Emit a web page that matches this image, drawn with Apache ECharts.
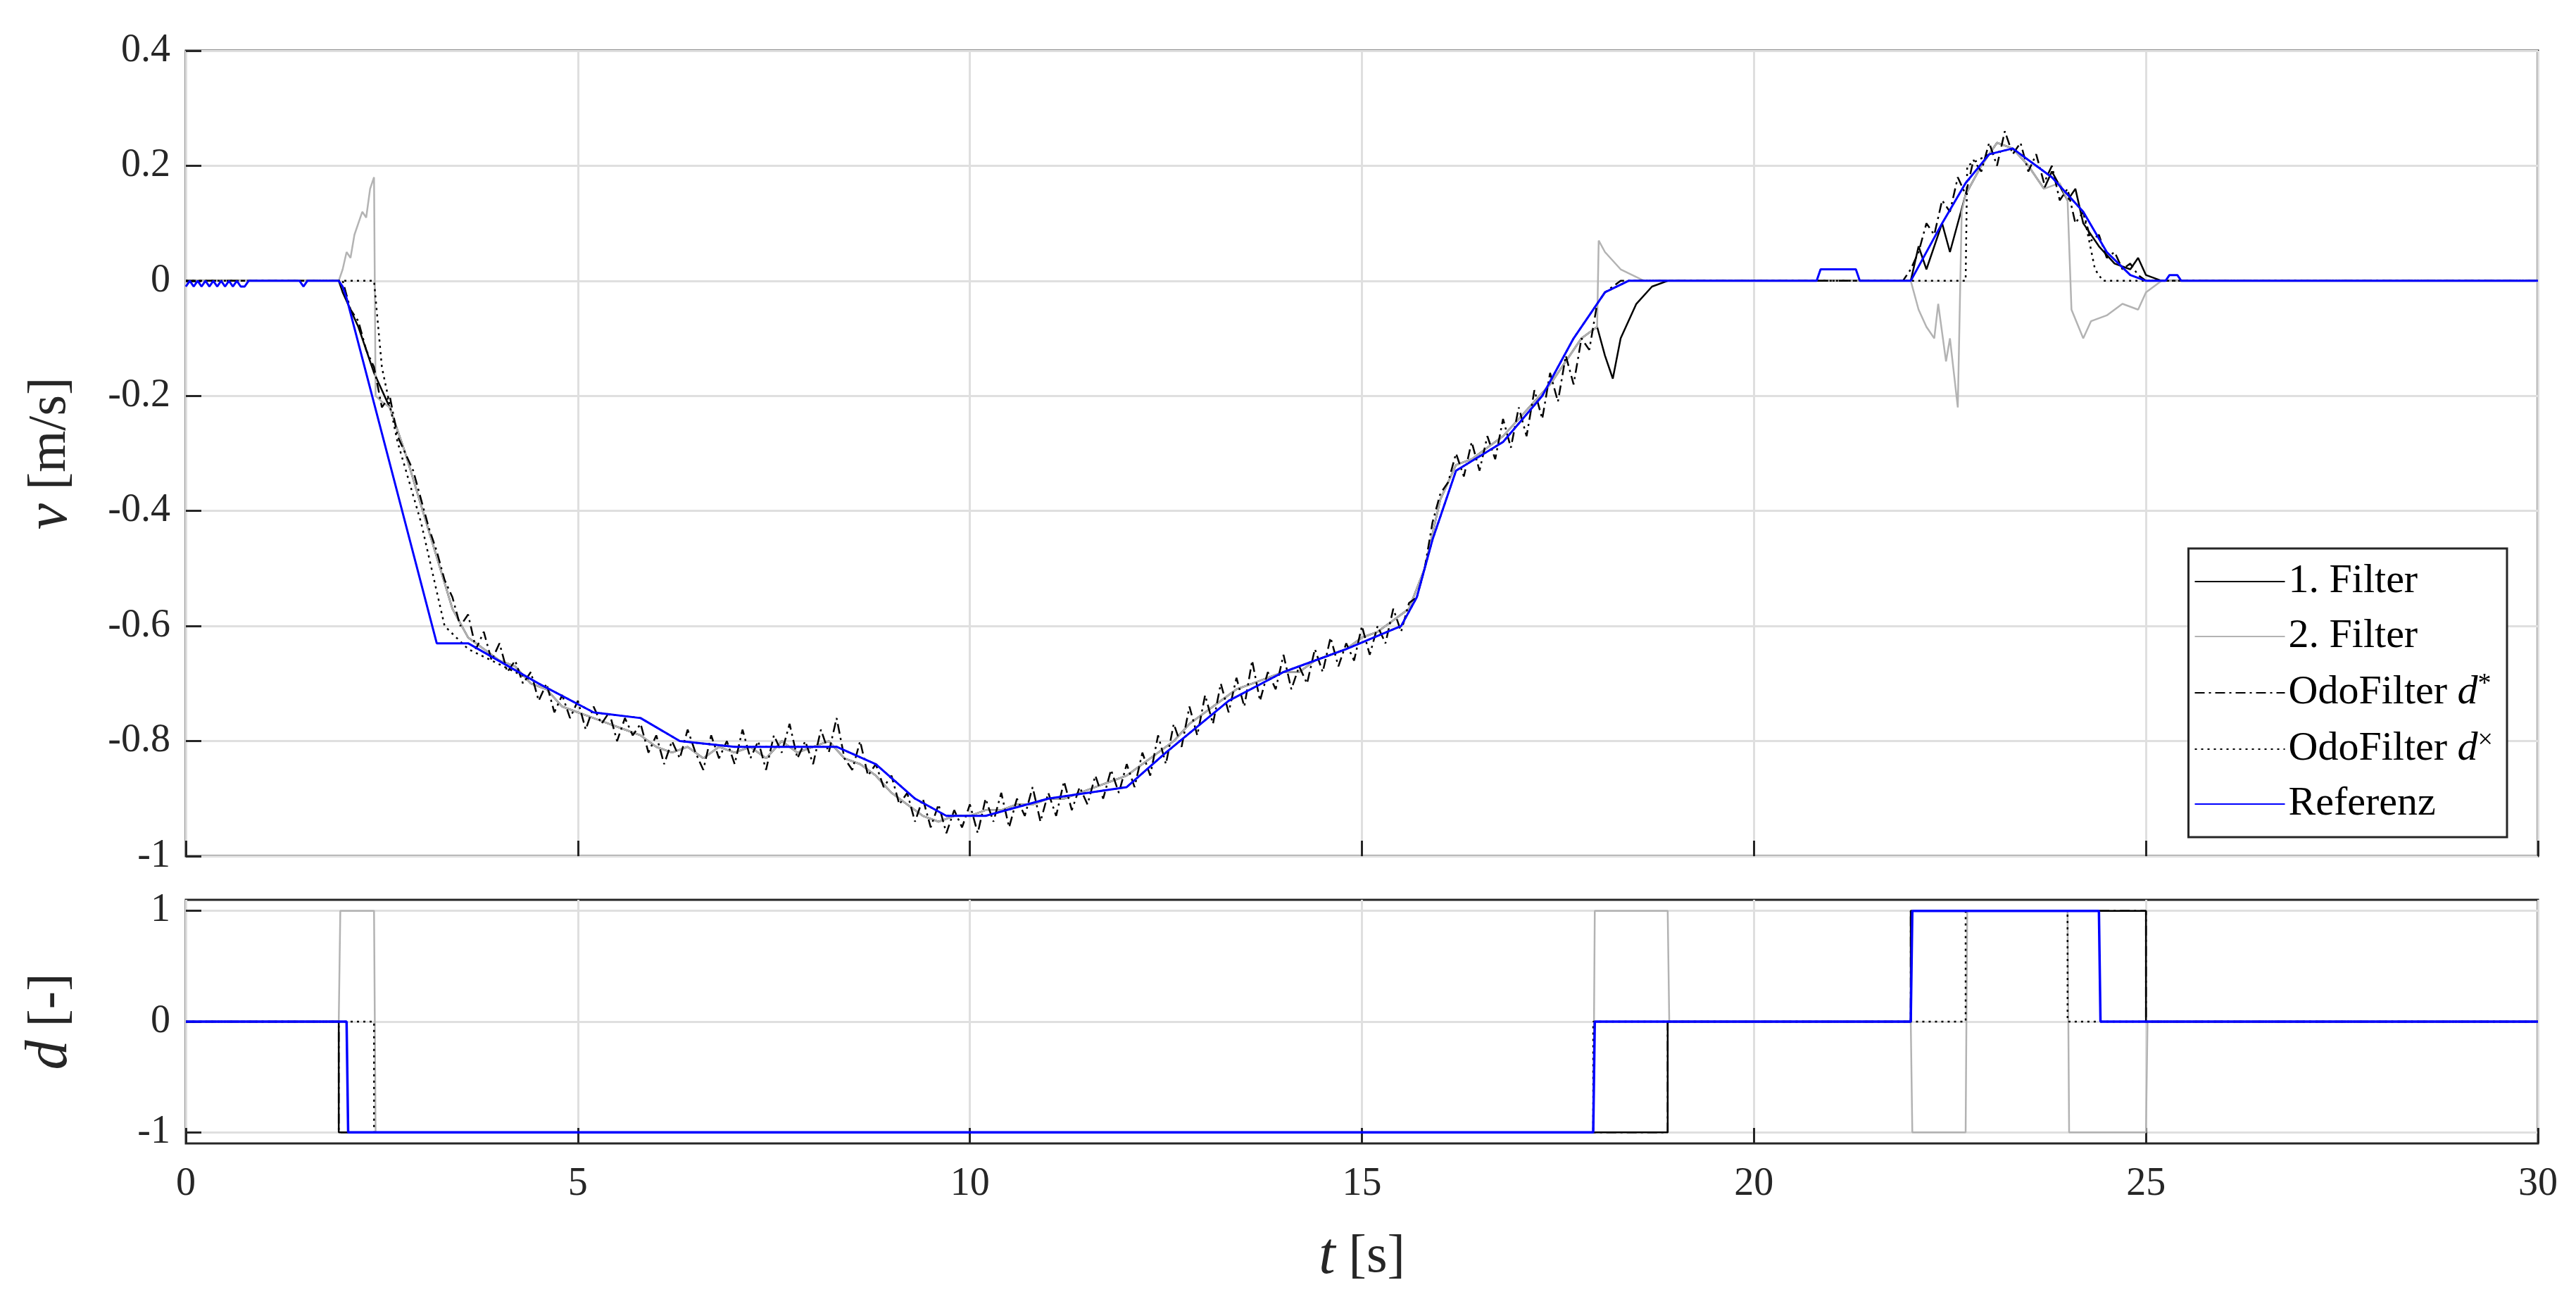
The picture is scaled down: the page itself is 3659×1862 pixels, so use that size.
<!DOCTYPE html>
<html>
<head>
<meta charset="utf-8">
<script src="https://cdn.jsdelivr.net/npm/echarts@6/dist/echarts.min.js"></script>
<style>html,body{margin:0;background:#fff}#c{width:3659px;height:1862px}</style>
</head>
<body>
<div id="c"></div>
<script>
// Geschwindigkeit v [m/s]
const tickV = [-1, -0.8, -0.6, -0.4, -0.2, 0, 0.2, 0.4];
const tickD = [-1, 0, 1];

// OdoFilter d* : 0.1 s Raster ab 2.0 s
const dStarStart = 2.0;
const dStarVals = [
  0, -0.05, -0.07, -0.12, -0.15, -0.22, -0.2, -0.27, -0.3, -0.33,
  -0.38, -0.43, -0.47, -0.52, -0.55, -0.6, -0.58, -0.64, -0.61, -0.66,
  -0.63, -0.68, -0.66, -0.7, -0.68, -0.73, -0.7, -0.75, -0.72, -0.76,
  -0.73, -0.78, -0.74, -0.77, -0.75, -0.8, -0.76, -0.79, -0.77, -0.82,
  -0.79, -0.84, -0.8, -0.83, -0.78, -0.82, -0.85, -0.79, -0.83, -0.8,
  -0.84, -0.78, -0.83, -0.8, -0.85, -0.79, -0.82, -0.77, -0.83, -0.8,
  -0.84, -0.78, -0.82, -0.76, -0.83, -0.85, -0.8, -0.86, -0.84, -0.88,
  -0.86, -0.91, -0.89, -0.94, -0.9, -0.95, -0.91, -0.96, -0.92, -0.95,
  -0.91, -0.96, -0.9, -0.94, -0.89, -0.95, -0.9, -0.93, -0.88, -0.94,
  -0.89, -0.93, -0.87, -0.92, -0.88, -0.91, -0.86, -0.9, -0.85, -0.89,
  -0.84, -0.88, -0.82, -0.86, -0.79, -0.84, -0.77, -0.81, -0.74, -0.79,
  -0.72, -0.77, -0.7, -0.75, -0.69, -0.74, -0.66, -0.73, -0.68, -0.71,
  -0.65, -0.71, -0.67, -0.7, -0.64, -0.68, -0.62, -0.67, -0.63, -0.66,
  -0.6, -0.65, -0.6, -0.63, -0.57, -0.61, -0.56, -0.55, -0.5, -0.42,
  -0.37, -0.35, -0.3, -0.34, -0.28, -0.33, -0.27, -0.31, -0.24, -0.29,
  -0.22, -0.27, -0.19, -0.24, -0.16, -0.21, -0.13, -0.18, -0.1, -0.12,
  -0.04, -0.02, -0.01, 0, 0, 0, 0, 0, 0, 0,
  0, 0, 0, 0, 0, 0, 0, 0, 0, 0,
  0, 0, 0, 0, 0, 0, 0, 0, 0, 0,
  0, 0, 0, 0, 0, 0, 0, 0, 0, 0,
  0.02, 0.05, 0.1, 0.08, 0.14, 0.12, 0.18, 0.15, 0.21, 0.19,
  0.24, 0.2, 0.26, 0.22, 0.24, 0.19, 0.22, 0.17, 0.2, 0.14,
  0.16, 0.1, 0.12, 0.07, 0.08, 0.04, 0.05, 0.02, 0.03, 0.01,
  0
];

// 1. Filter
const filter1Mid = [
  [2.0, -0.02], [2.2, -0.08], [2.4, -0.16], [2.6, -0.22], [2.8, -0.3], [3.0, -0.39], [3.2, -0.48],
  [3.4, -0.57], [3.6, -0.62], [3.8, -0.64], [4.0, -0.66], [4.2, -0.67], [4.4, -0.7], [4.6, -0.71],
  [4.8, -0.74], [5.0, -0.75], [5.2, -0.76], [5.4, -0.77], [5.6, -0.78], [5.8, -0.79], [6.0, -0.81],
  [6.2, -0.82], [6.4, -0.81], [6.6, -0.83], [6.8, -0.81], [7.0, -0.82], [7.2, -0.81], [7.4, -0.83],
  [7.6, -0.8], [7.8, -0.82], [8.0, -0.81], [8.2, -0.8], [8.4, -0.83], [8.6, -0.84], [8.8, -0.86],
  [9.0, -0.89], [9.2, -0.91], [9.4, -0.93], [9.6, -0.94], [9.8, -0.93], [10.0, -0.93], [10.2, -0.92],
  [10.4, -0.92], [10.6, -0.91], [10.8, -0.91], [11.0, -0.9], [11.2, -0.9], [11.4, -0.89], [11.6, -0.88],
  [11.8, -0.87], [12.0, -0.86], [12.2, -0.84], [12.4, -0.82], [12.6, -0.8], [12.8, -0.77], [13.0, -0.75],
  [13.2, -0.73], [13.4, -0.71], [13.6, -0.7], [13.8, -0.69], [14.0, -0.68], [14.2, -0.68], [14.4, -0.66],
  [14.6, -0.65], [14.8, -0.64], [15.0, -0.62], [15.2, -0.61], [15.4, -0.59], [15.6, -0.57], [15.8, -0.5],
  [16.0, -0.38], [16.2, -0.32], [16.4, -0.31], [16.6, -0.29], [16.8, -0.27], [17.0, -0.24], [17.2, -0.21],
  [17.4, -0.18], [17.6, -0.14], [17.8, -0.1], [18.0, -0.08]
];
const filter1Head = [[0, 0], [1.95, 0]];
const filter1Tail = [
  [18.1, -0.13], [18.2, -0.17], [18.3, -0.1], [18.5, -0.04], [18.7, -0.01], [18.9, 0], [22.0, 0],
  [22.1, 0.06], [22.2, 0.02], [22.4, 0.1], [22.5, 0.05], [22.7, 0.15], [22.9, 0.2], [23.1, 0.24],
  [23.3, 0.23], [23.5, 0.2], [23.7, 0.16], [23.8, 0.19], [24.0, 0.14], [24.1, 0.16], [24.2, 0.1],
  [24.4, 0.06], [24.6, 0.03], [24.8, 0.02], [24.9, 0.04], [25.0, 0.01], [25.2, 0], [30, 0]
];

// 2. Filter
const filter2Head = [
  [0, 0], [1.95, 0], [2.0, 0.02], [2.05, 0.05], [2.1, 0.04], [2.15, 0.08], [2.2, 0.1], [2.25, 0.12],
  [2.3, 0.11], [2.35, 0.16], [2.4, 0.18], [2.42, -0.2], [2.5, -0.21]
];
const filter2Tail = [
  [18.02, 0.07], [18.1, 0.05], [18.3, 0.02], [18.6, 0], [22.0, 0], [22.1, -0.05], [22.2, -0.08],
  [22.3, -0.1], [22.35, -0.04], [22.45, -0.14], [22.5, -0.1], [22.6, -0.22], [22.65, 0.12], [22.7, 0.15],
  [22.9, 0.2], [23.1, 0.24], [23.3, 0.23], [23.5, 0.2], [23.7, 0.16], [23.9, 0.17], [24.0, 0.14],
  [24.05, -0.05], [24.2, -0.1], [24.3, -0.07], [24.5, -0.06], [24.7, -0.04], [24.9, -0.05],
  [25.0, -0.02], [25.2, 0], [30, 0]
];

// Referenz
const refPts = [
  [0, -0.01], [0.05, 0], [0.1, -0.01], [0.15, 0], [0.2, -0.01], [0.25, 0], [0.3, -0.01], [0.35, 0],
  [0.4, -0.01], [0.45, 0], [0.5, -0.01], [0.55, 0], [0.6, -0.01], [0.65, 0], [0.7, -0.01], [0.75, -0.01],
  [0.8, 0], [1.45, 0], [1.5, -0.01], [1.55, 0], [1.95, 0], [2.0, -0.01], [2.05, -0.03], [3.2, -0.63], [3.6, -0.63],
  [4.5, -0.7], [5.2, -0.75], [5.8, -0.76], [6.3, -0.8], [7.0, -0.81], [8.3, -0.81], [8.8, -0.84],
  [9.3, -0.9], [9.7, -0.93], [10.2, -0.93], [11.0, -0.9], [12.0, -0.88], [12.5, -0.82], [13.3, -0.73],
  [14.0, -0.68], [14.8, -0.64], [15.5, -0.6], [15.7, -0.55], [15.9, -0.45], [16.2, -0.33], [16.8, -0.28],
  [17.3, -0.2], [17.7, -0.1], [18.1, -0.02], [18.4, 0], [20.8, 0], [20.85, 0.02], [21.3, 0.02],
  [21.35, 0], [22.0, 0], [22.4, 0.1], [22.7, 0.17], [23.0, 0.22], [23.3, 0.23], [23.8, 0.18],
  [24.2, 0.12], [24.5, 0.05], [24.8, 0.01], [25.0, 0], [25.25, 0], [25.3, 0.01], [25.4, 0.01], [25.45, 0], [30, 0]
];

// OdoFilter d×
const dCrossHead = [[0, 0], [2.4, 0], [2.5, -0.15], [2.7, -0.28], [3.0, -0.42], [3.3, -0.6], [3.6, -0.64]];
const dCrossTail = [
  [18.4, 0], [22.7, 0], [22.72, 0.2], [23.0, 0.22], [23.3, 0.23], [23.8, 0.18], [24.2, 0.12],
  [24.35, 0.02], [24.45, 0], [30, 0]
];

// Richtung d [-] (Stufen)
const dFilter1 = [[0, 0], [1.95, 0], [1.95, -1], [18.9, -1], [18.9, 0], [22.0, 0], [22.0, 1], [25.0, 1], [25.0, 0], [30, 0]];
const dFilter2 = [[0, 0], [1.95, 0], [1.97, 1], [2.4, 1], [2.42, -1], [17.95, -1], [17.97, 1], [18.9, 1],
  [18.92, 0], [22.0, 0], [22.02, -1], [22.7, -1], [22.72, 1], [24.0, 1], [24.02, -1], [25.0, -1], [25.02, 0], [30, 0]];
const dStarD = [[0, 0], [1.95, 0], [1.95, -1], [18.9, -1], [18.9, 0], [22.0, 0], [22.0, 1], [25.0, 1], [25.0, 0], [30, 0]];
const dCrossD = [[0, 0], [2.4, 0], [2.4, -1], [17.95, -1], [17.95, 0], [22.7, 0], [22.7, 1], [24.0, 1], [24.0, 0], [30, 0]];
const dRef = [[0, 0], [2.05, 0], [2.07, -1], [17.95, -1], [17.97, 0], [22.0, 0], [22.02, 1], [24.4, 1], [24.42, 0], [30, 0]];

const dStarPts = dStarVals.map((v, i) => [+(dStarStart + i * 0.1).toFixed(2), v]);
const dStarFull = [[0, 0], [1.95, 0]].concat(dStarPts, [[30, 0]]);
const filter1 = filter1Head.concat(filter1Mid, filter1Tail);
const filter2 = filter2Head.concat(filter1Mid.filter(p => p[0] >= 2.6), filter2Tail);
const dCross = dCrossHead.concat(refPts.filter(p => p[0] > 3.6 && p[0] < 18.4), dCrossTail);

const font = 'Liberation Serif';
const axisCol = '#262626';
const gridLine = { show: true, lineStyle: { color: '#dfdfdf', width: 3 } };
const nameStyle = { fontFamily: font, fontSize: 76, color: axisCol, rich: { i: { fontStyle: 'italic', fontFamily: font, fontSize: 84 } } };

const xBase = (gi, showLabel) => ({
  type: 'value', gridIndex: gi, min: 0, max: 30, interval: 5,
  axisLine: { show: false, onZero: false },
  axisTick: { inside: true, length: 22, lineStyle: { color: axisCol, width: 3 } },
  axisLabel: { show: showLabel, fontFamily: font, fontSize: 56, color: axisCol, margin: 30 },
  splitLine: gridLine
});

const lineS = (name, data, color, type, xi, width) => ({
  name, type: 'line', data, xAxisIndex: xi, yAxisIndex: xi, showSymbol: false, symbol: 'none',
  animation: false, lineStyle: { color, width: width || 2.5, type: type || 'solid' },
  itemStyle: { color }
});

const chart = echarts.init(document.getElementById('c'));
chart.setOption({
  backgroundColor: '#fff',
  animation: false,
  grid: [
    { left: 264, top: 72, right: 54, height: 1144, show: true, borderColor: axisCol, borderWidth: 3 },
    { left: 264, top: 1278, right: 54, height: 346, show: true, borderColor: axisCol, borderWidth: 3 }
  ],
  xAxis: [
    xBase(0, false),
    Object.assign(xBase(1, true), {
      name: '{i|t} [s]', nameLocation: 'middle', nameGap: 120, nameTextStyle: nameStyle
    })
  ],
  yAxis: [
    {
      type: 'value', gridIndex: 0, min: -1, max: 0.4, interval: 0.2,
      axisLine: { show: false, onZero: false },
      axisTick: { inside: true, length: 22, lineStyle: { color: axisCol, width: 3 } },
      axisLabel: { fontFamily: font, fontSize: 56, color: axisCol, margin: 22,
        formatter: v => (Math.abs(v) < 1e-9 ? '0' : String(+v.toFixed(1))) },
      splitLine: gridLine,
      name: '{i|v} [m/s]', nameLocation: 'middle', nameGap: 150, nameRotate: 90, nameTextStyle: nameStyle
    },
    {
      type: 'value', gridIndex: 1, min: -1.1, max: 1.1,
      axisLine: { show: false, onZero: false },
      axisTick: { inside: true, length: 22, lineStyle: { color: axisCol, width: 3 }, customValues: tickD },
      axisLabel: { fontFamily: font, fontSize: 56, color: axisCol, margin: 22, customValues: tickD },
      splitLine: gridLine,
      name: '{i|d} [-]', nameLocation: 'middle', nameGap: 150, nameRotate: 90, nameTextStyle: nameStyle
    }
  ],
  legend: {
    orient: 'vertical', right: 98, top: 779, itemWidth: 128, itemHeight: 20, itemGap: 20,
    padding: [18, 20, 18, 8],
    backgroundColor: '#fff', borderColor: axisCol, borderWidth: 3,
    itemStyle: { opacity: 0 },
    data: ['1. Filter', '2. Filter', 'OdoFilter d*', 'OdoFilter d×', 'Referenz'],
    formatter: n => n.replace(/ d(\*|×)$/, (m, s) => ' {i|d}{s|' + s + '}'),
    textStyle: { fontFamily: font, fontSize: 58, color: '#000', padding: [0, 0, 0, 0],
      rich: { i: { fontStyle: 'italic', fontFamily: font, fontSize: 58 }, s: { fontFamily: font, fontSize: 38, verticalAlign: 'top', padding: [0, 0, 24, 0] } } }
  },
  series: [
    lineS('1. Filter', filter1, '#000000', 'solid', 0),
    lineS('2. Filter', filter2, '#b3b3b3', 'solid', 0),
    lineS('OdoFilter d*', dStarFull, '#000000', [14, 6, 3, 6], 0),
    lineS('OdoFilter d×', dCross, '#000000', [3, 6], 0),
    lineS('Referenz', refPts, '#0000ff', 'solid', 0, 3),
    lineS('1. Filter', dFilter1, '#000000', 'solid', 1),
    lineS('2. Filter', dFilter2, '#b3b3b3', 'solid', 1),
    lineS('OdoFilter d*', dStarD, '#000000', [14, 6, 3, 6], 1),
    lineS('OdoFilter d×', dCrossD, '#000000', [3, 6], 1),
    lineS('Referenz', dRef, '#0000ff', 'solid', 1, 3.5)
  ]
});
</script>
</body>
</html>
